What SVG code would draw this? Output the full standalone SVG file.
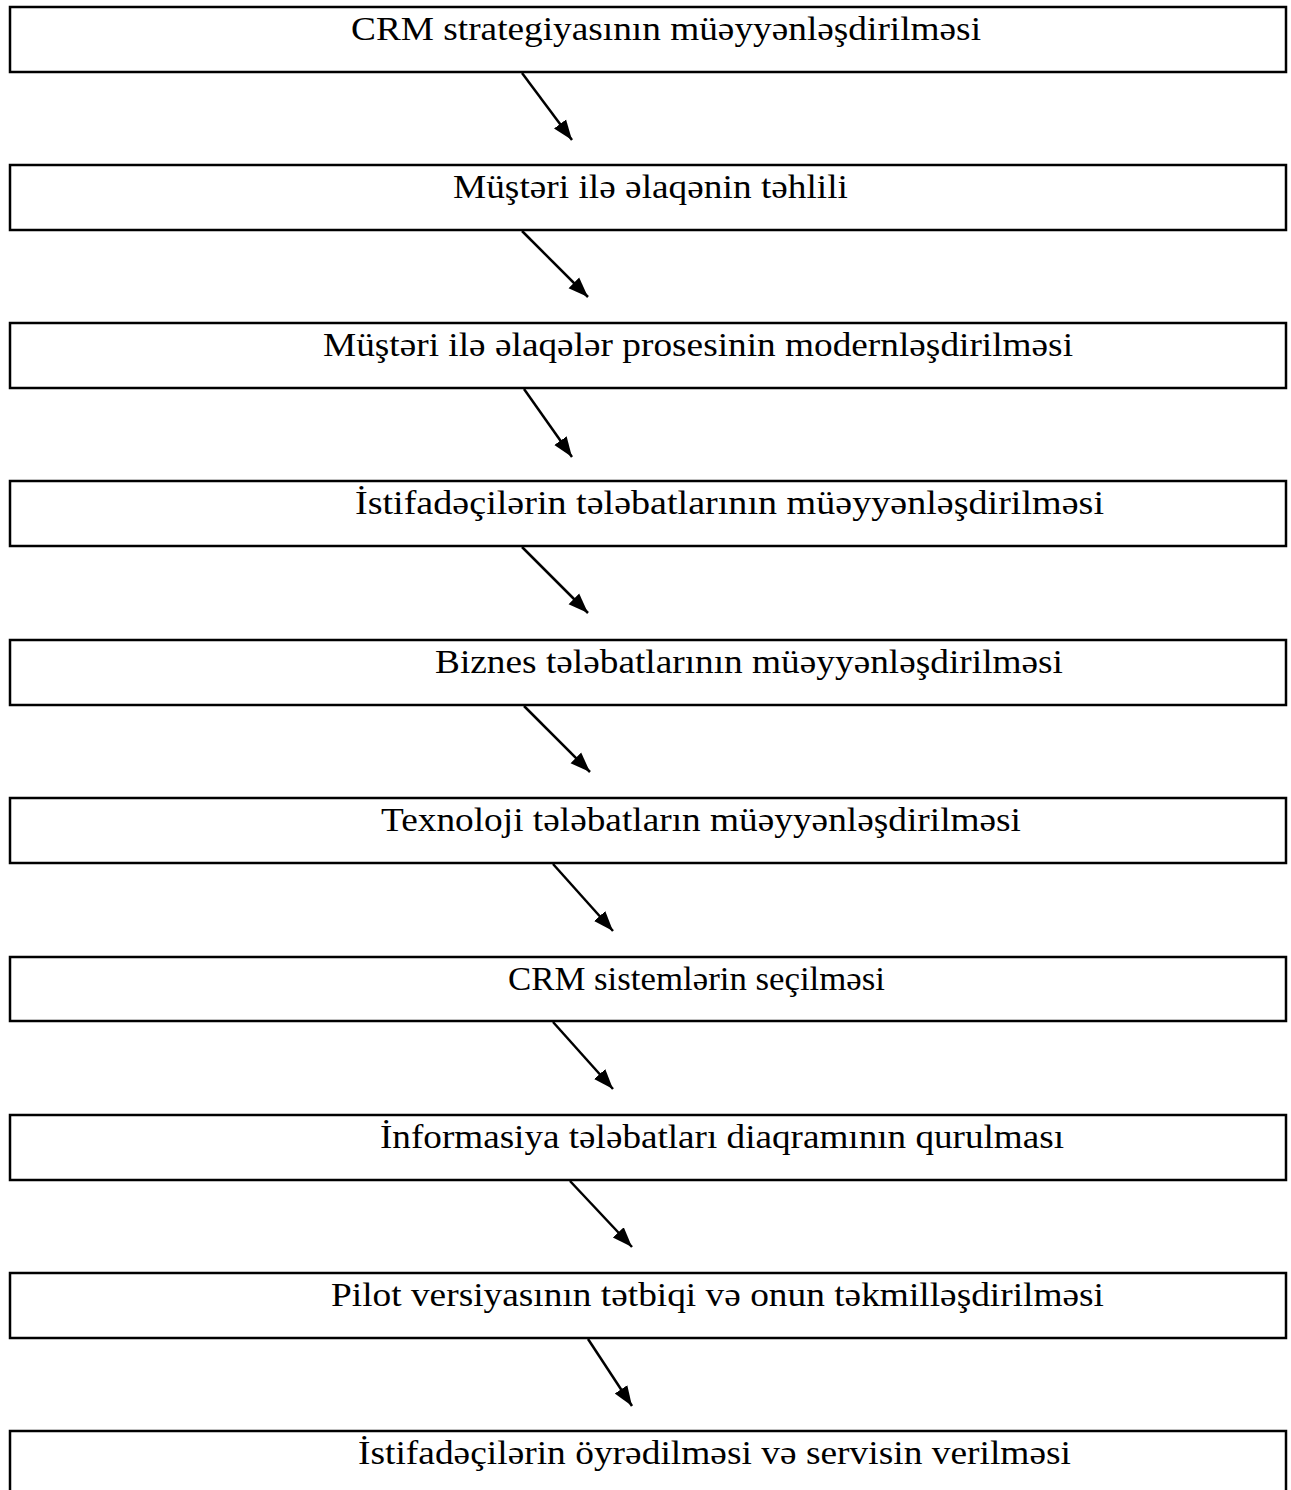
<svg xmlns="http://www.w3.org/2000/svg" width="1291" height="1490" viewBox="0 0 1291 1490">
<style>
.box{fill:#fff;stroke:#000;stroke-width:2.5}
.t{font-family:"Liberation Serif","Times New Roman",serif;font-size:33px;fill:#000}
.c{stroke:#000;stroke-width:2.5;fill:none}
</style>
<defs>
<marker id="ah" markerUnits="userSpaceOnUse" markerWidth="22" markerHeight="22" viewBox="0 0 22 22" refX="20" refY="11" orient="auto">
<path d="M0,3.5 L20,11 L0,18.5 Z" fill="#000"/>
</marker>
</defs>
<rect width="1291" height="1490" fill="#fff"/>
<g id="n1"><rect class="box" x="10" y="7" width="1276" height="65"/><text class="t" x="351" y="40" textLength="630" lengthAdjust="spacingAndGlyphs">CRM strategiyasının müəyyənləşdirilməsi</text></g>
<g id="n2"><rect class="box" x="10" y="165" width="1276" height="65"/><text class="t" x="453" y="198" textLength="395" lengthAdjust="spacingAndGlyphs">Müştəri ilə əlaqənin təhlili</text></g>
<g id="n3"><rect class="box" x="10" y="323" width="1276" height="65"/><text class="t" x="323" y="356" textLength="750" lengthAdjust="spacingAndGlyphs">Müştəri ilə əlaqələr prosesinin modernləşdirilməsi</text></g>
<g id="n4"><rect class="box" x="10" y="481" width="1276" height="65"/><text class="t" x="355" y="514" textLength="749" lengthAdjust="spacingAndGlyphs">İstifadəçilərin tələbatlarının müəyyənləşdirilməsi</text></g>
<g id="n5"><rect class="box" x="10" y="640" width="1276" height="65"/><text class="t" x="435" y="673" textLength="628" lengthAdjust="spacingAndGlyphs">Biznes tələbatlarının müəyyənləşdirilməsi</text></g>
<g id="n6"><rect class="box" x="10" y="798" width="1276" height="65"/><text class="t" x="381" y="831" textLength="640" lengthAdjust="spacingAndGlyphs">Texnoloji tələbatların müəyyənləşdirilməsi</text></g>
<g id="n7"><rect class="box" x="10" y="957" width="1276" height="64"/><text class="t" x="508" y="990" textLength="377" lengthAdjust="spacingAndGlyphs">CRM sistemlərin seçilməsi</text></g>
<g id="n8"><rect class="box" x="10" y="1115" width="1276" height="65"/><text class="t" x="380" y="1148" textLength="684" lengthAdjust="spacingAndGlyphs">İnformasiya tələbatları diaqramının qurulması</text></g>
<g id="n9"><rect class="box" x="10" y="1273" width="1276" height="65"/><text class="t" x="331" y="1306" textLength="773" lengthAdjust="spacingAndGlyphs">Pilot versiyasının tətbiqi və onun təkmilləşdirilməsi</text></g>
<g id="n10"><rect class="box" x="10" y="1431" width="1276" height="70"/><text class="t" x="358" y="1464" textLength="713" lengthAdjust="spacingAndGlyphs">İstifadəçilərin öyrədilməsi və servisin verilməsi</text></g>
<g id="connectors">
<line class="c" x1="522" y1="73" x2="572" y2="140" marker-end="url(#ah)"/>
<line class="c" x1="522" y1="231" x2="588" y2="297" marker-end="url(#ah)"/>
<line class="c" x1="524" y1="389" x2="572" y2="457" marker-end="url(#ah)"/>
<line class="c" x1="522" y1="547" x2="588" y2="613" marker-end="url(#ah)"/>
<line class="c" x1="524" y1="706" x2="590" y2="772" marker-end="url(#ah)"/>
<line class="c" x1="553" y1="864" x2="613" y2="931" marker-end="url(#ah)"/>
<line class="c" x1="553" y1="1022" x2="613" y2="1089" marker-end="url(#ah)"/>
<line class="c" x1="570" y1="1181" x2="632" y2="1247" marker-end="url(#ah)"/>
<line class="c" x1="588" y1="1339" x2="632" y2="1406" marker-end="url(#ah)"/>
</g>
</svg>
